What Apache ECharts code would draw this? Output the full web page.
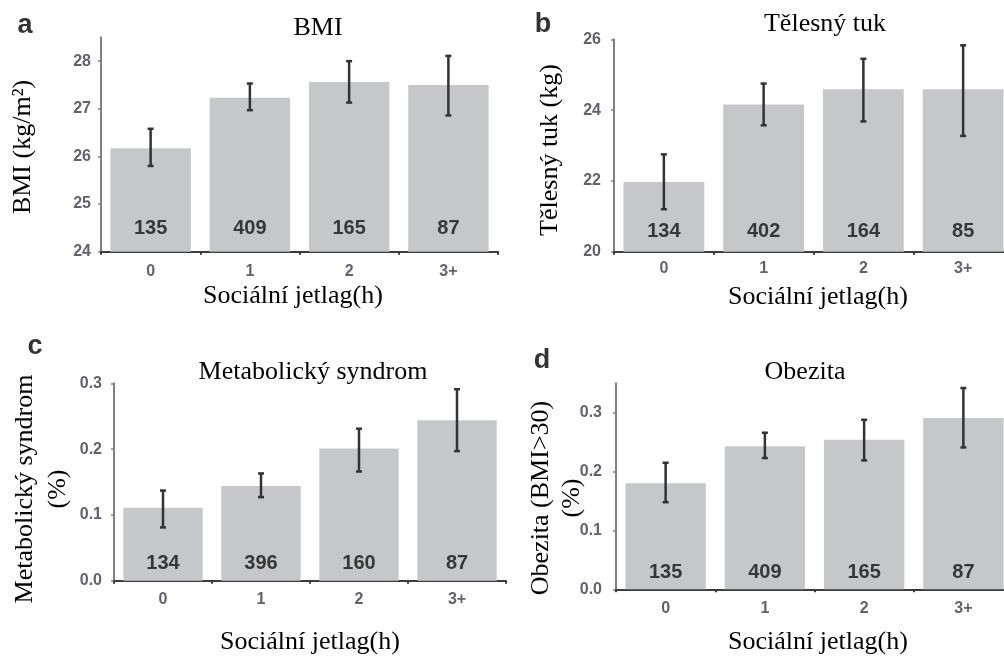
<!DOCTYPE html>
<html>
<head>
<meta charset="utf-8">
<script src="https://cdn.jsdelivr.net/npm/echarts@6/dist/echarts.min.js"></script>
<style>
html,body{margin:0;padding:0;background:#fff;overflow:hidden;}
#chart{width:1024px;height:657px;}
</style>
</head>
<body>
<div id="chart"></div>
<script>
const cats = ['0', '1', '2', '3+'];

const bmiMean = [26.17, 27.23, 27.56, 27.50];
const bmiLow  = [25.80, 26.97, 27.13, 26.86];
const bmiHigh = [26.58, 27.53, 28.00, 28.11];
const bmiN    = [135, 409, 165, 87];
const bmiTicks = [24, 25, 26, 27, 28];

const fatMean = [21.97, 24.16, 24.59, 24.59];
const fatLow  = [21.20, 23.57, 23.68, 23.27];
const fatHigh = [22.75, 24.75, 25.45, 25.83];
const fatN    = [134, 402, 164, 85];
const fatTicks = [20, 22, 24, 26];

const metMean = [0.111, 0.144, 0.201, 0.244];
const metLow  = [0.081, 0.127, 0.166, 0.197];
const metHigh = [0.137, 0.163, 0.231, 0.291];
const metN    = [134, 396, 160, 87];
const metTicks = [0.0, 0.1, 0.2, 0.3];

const obMean = [0.180, 0.243, 0.254, 0.291];
const obLow  = [0.148, 0.223, 0.219, 0.241];
const obHigh = [0.215, 0.266, 0.288, 0.342];
const obN    = [135, 409, 165, 87];
const obTicks = [0.0, 0.1, 0.2, 0.3];

const panels = [
  {mean: bmiMean, low: bmiLow, high: bmiHigh, n: bmiN, ticks: bmiTicks, min: 24, max: 28.5, dec: 0,
   grid: {left: 101, top: 37.3, width: 397, height: 214.4}, xMargin: 12, yMargin: 10, nDist: 13},
  {mean: fatMean, low: fatLow, high: fatHigh, n: fatN, ticks: fatTicks, min: 20, max: 26, dec: 0,
   grid: {left: 614, top: 39.3, width: 399, height: 212.4}, xMargin: 9, yMargin: 13, nDist: 10},
  {mean: metMean, low: metLow, high: metHigh, n: metN, ticks: metTicks, min: 0, max: 0.3, dec: 1,
   grid: {left: 114, top: 383.3, width: 392, height: 197.4}, xMargin: 11, yMargin: 12, nDist: 7},
  {mean: obMean, low: obLow, high: obHigh, n: obN, ticks: obTicks, min: 0, max: 0.35, dec: 1,
   grid: {left: 616, top: 383.3, width: 397, height: 206}, xMargin: 11, yMargin: 14, nDist: 7}
];

const serif = '"Liberation Serif", "DejaVu Serif", serif';
const sans = '"Liberation Sans", Arial, sans-serif';

const grids = [], xAxes = [], yAxes = [], series = [];
panels.forEach((p, i) => {
  grids.push(Object.assign({containLabel: false}, p.grid));
  xAxes.push({
    type: 'category', gridIndex: i, data: cats,
    axisLine: {lineStyle: {color: '#3c3c3c', width: 2}},
    axisTick: {show: true, length: 3, alignWithLabel: false, lineStyle: {color: '#3c3c3c', width: 2}},
    axisLabel: {color: '#62626e', fontFamily: sans, fontWeight: 'bold', fontSize: 16, margin: p.xMargin}
  });
  yAxes.push({
    type: 'value', gridIndex: i, min: p.min, max: p.max,
    splitLine: {show: false},
    axisLine: {show: true, lineStyle: {color: '#808080', width: 2}},
    axisTick: {show: true, length: 3, customValues: p.ticks, lineStyle: {color: '#808080', width: 1.5}},
    axisLabel: {color: '#62626e', fontFamily: sans, fontWeight: 'bold', fontSize: 16, margin: p.yMargin,
      customValues: p.ticks, formatter: v => Number(v).toFixed(p.dec)}
  });
  series.push({
    type: 'bar', xAxisIndex: i, yAxisIndex: i, data: p.mean,
    barCategoryGap: '19%',
    itemStyle: {color: '#c6c7c9'},
    label: {show: true, position: 'insideBottom', distance: p.nDist,
      formatter: d => String(p.n[d.dataIndex]),
      color: '#373737', fontFamily: sans, fontWeight: 'bold', fontSize: 20},
    silent: true, animation: false
  });
  series.push({
    type: 'custom', xAxisIndex: i, yAxisIndex: i,
    data: p.mean.map((m, k) => [k, p.low[k], p.high[k]]),
    renderItem: (params, api) => {
      const top = api.coord([api.value(0), api.value(2)]);
      const bot = api.coord([api.value(0), api.value(1)]);
      const w = 3;
      const st = {stroke: '#333333', lineWidth: 2.5};
      return {type: 'group', children: [
        {type: 'line', shape: {x1: top[0], y1: top[1], x2: bot[0], y2: bot[1]}, style: st},
        {type: 'line', shape: {x1: top[0] - w, y1: top[1], x2: top[0] + w, y2: top[1]}, style: st},
        {type: 'line', shape: {x1: bot[0] - w, y1: bot[1], x2: bot[0] + w, y2: bot[1]}, style: st}
      ]};
    },
    silent: true, animation: false, z: 5
  });
});

function txt(s, x, y, opts) {
  return Object.assign({
    type: 'text', x: x, y: y,
    style: Object.assign({text: s, fill: '#000', font: '26px ' + serif, align: 'center', verticalAlign: 'middle'}, opts && opts.style || {})
  }, opts && opts.el || {});
}
const rot = {el: {rotation: Math.PI / 2}};

const graphics = [
  // titles
  txt('BMI', 318, 28),
  txt('Tělesný tuk', 825, 24),
  txt('Metabolický syndrom', 313, 372),
  txt('Obezita', 805, 372),
  // x names
  txt('Sociální jetlag(h)', 293, 296),
  txt('Sociální jetlag(h)', 818, 297),
  txt('Sociální jetlag(h)', 310, 642),
  txt('Sociální jetlag(h)', 818, 642),
  // y names
  txt('BMI (kg/m²)', 23, 147, rot),
  txt('Tělesný tuk (kg)', 550, 150, rot),
  txt('Metabolický syndrom\n(%)', 42, 489, {el: {rotation: Math.PI / 2}, style: {lineHeight: 33}}),
  txt('Obezita (BMI>30)\n(%)', 557, 498, {el: {rotation: Math.PI / 2}, style: {lineHeight: 31}}),
  // panel letters
  txt('a', 25, 26, {style: {font: 'bold 27px ' + sans, fill: '#333'}}),
  txt('b', 543, 25, {style: {font: 'bold 27px ' + sans, fill: '#333'}}),
  txt('c', 35, 347, {style: {font: 'bold 27px ' + sans, fill: '#333'}}),
  txt('d', 542, 361, {style: {font: 'bold 27px ' + sans, fill: '#333'}})
];

const chart = echarts.init(document.getElementById('chart'), null, {renderer: 'canvas'});
chart.setOption({
  animation: false,
  grid: grids, xAxis: xAxes, yAxis: yAxes, series: series,
  graphic: graphics
});
</script>
</body>
</html>
